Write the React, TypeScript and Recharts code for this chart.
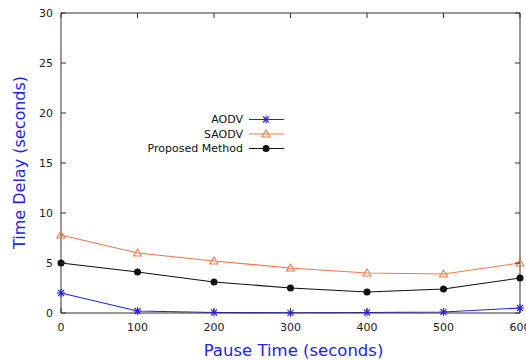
import React from 'react';
import { LineChart, Line, XAxis, YAxis, Legend } from 'recharts';

const pauseTimes = [0, 100, 200, 300, 400, 500, 600];
const aodv = [2.0, 0.2, 0.05, 0.02, 0.05, 0.1, 0.5];
const saodv = [7.8, 6.0, 5.2, 4.5, 4.0, 3.9, 5.0];
const proposed = [5.0, 4.1, 3.1, 2.5, 2.1, 2.4, 3.5];
const xTicks = [0, 100, 200, 300, 400, 500, 600];
const yTicks = [0, 5, 10, 15, 20, 25, 30];
const seriesNames = ['AODV', 'SAODV', 'Proposed Method'];

const data = pauseTimes.map((t, i) => ({
  t,
  aodv: aodv[i],
  saodv: saodv[i],
  proposed: proposed[i],
}));

const BLUE = '#2424e0';
const ORANGE = '#f0784a';
const BLACK = '#111111';
const AXIS = '#333333';
const FONT = 'DejaVu Sans, sans-serif';

const Star = (cx: number, cy: number, color: string, r = 4) => (
  <g stroke={color} strokeWidth={1.1}>
    <line x1={cx - r} y1={cy} x2={cx + r} y2={cy} />
    <line x1={cx} y1={cy - r} x2={cx} y2={cy + r} />
    <line x1={cx - r * 0.75} y1={cy - r * 0.75} x2={cx + r * 0.75} y2={cy + r * 0.75} />
    <line x1={cx - r * 0.75} y1={cy + r * 0.75} x2={cx + r * 0.75} y2={cy - r * 0.75} />
  </g>
);
const Tri = (cx: number, cy: number, color: string, r = 4) => (
  <polygon
    points={`${cx},${cy - r} ${cx - r},${cy + r * 0.75} ${cx + r},${cy + r * 0.75}`}
    fill="none"
    stroke={color}
    strokeWidth={1.1}
  />
);
const Dot = (cx: number, cy: number, color: string, r = 3.5) => (
  <circle cx={cx} cy={cy} r={r} fill={color} stroke="none" />
);

const StarDot = (p: any) => <g key={p.key ?? p.index}>{Star(p.cx, p.cy, BLUE)}</g>;
const TriDot = (p: any) => <g key={p.key ?? p.index}>{Tri(p.cx, p.cy, ORANGE)}</g>;
const CircDot = (p: any) => <g key={p.key ?? p.index}>{Dot(p.cx, p.cy, BLACK)}</g>;

const BottomTick = (p: any) => (
  <g>
    <line x1={p.x} y1={p.y} x2={p.x} y2={p.y - 5} stroke={AXIS} />
    <text x={p.x} y={p.y + 14} textAnchor="middle" dominantBaseline="central" fontSize={11} fontFamily={FONT} fill="#222">
      {p.payload.value}
    </text>
  </g>
);
const TopTick = (p: any) => (
  <line x1={p.x} y1={p.y} x2={p.x} y2={p.y + 5} stroke={AXIS} />
);
const LeftTick = (p: any) => (
  <g>
    <line x1={p.x} y1={p.y} x2={p.x + 5} y2={p.y} stroke={AXIS} />
    <text x={p.x - 8} y={p.y} textAnchor="end" dominantBaseline="central" fontSize={11} fontFamily={FONT} fill="#222">
      {p.payload.value}
    </text>
  </g>
);
const RightTick = (p: any) => (
  <line x1={p.x} y1={p.y} x2={p.x - 5} y2={p.y} stroke={AXIS} />
);

const XLabel = (p: any) => {
  const vb = p.viewBox || { x: 61, y: 313, width: 459, height: 47 };
  return (
    <text x={vb.x + vb.width / 2 + 3} y={350} textAnchor="middle" dominantBaseline="central" fontSize={16.5} fontFamily={FONT} fill={BLUE}>
      Pause Time (seconds)
    </text>
  );
};

const LEG_LEFT = 120;
const LEG_TOP = 108;
const renderLegend = () => {
  const rows = [
    { name: seriesNames[0], color: BLUE, mark: Star },
    { name: seriesNames[1], color: ORANGE, mark: Tri },
    { name: seriesNames[2], color: BLACK, mark: Dot },
  ];
  const ys = [119.5, 134, 148.5];
  return (
    <svg width={180} height={52} style={{ display: 'block', overflow: 'visible' }}>
      {rows.map((r, i) => {
        const y = ys[i] - LEG_TOP;
        return (
          <g key={r.name}>
            <text x={243 - LEG_LEFT} y={y} textAnchor="end" dominantBaseline="central" fontSize={11} fontFamily={FONT} fill="#111">
              {r.name}
            </text>
            <line x1={249 - LEG_LEFT} y1={y} x2={284 - LEG_LEFT} y2={y} stroke={r.color} strokeWidth={1.1} />
            {r.mark(266 - LEG_LEFT, y, r.color)}
          </g>
        );
      })}
    </svg>
  );
};

export default function App() {
  return (
    <div style={{ position: 'absolute', left: 0, top: 0, width: 526, height: 360, background: '#fff' }}>
      <LineChart width={526} height={360} data={data} margin={{ top: 12, right: 5, bottom: 0, left: 0 }}>
        <XAxis
          dataKey="t"
          type="number"
          domain={[0, 600]}
          ticks={xTicks}
          interval={0}
          height={47}
          tickSize={0}
          tickMargin={0}
          tickLine={false}
          axisLine={{ stroke: AXIS }}
          tick={BottomTick}
          label={<XLabel />}
        />
        <XAxis
          xAxisId="top"
          dataKey="t"
          type="number"
          orientation="top"
          domain={[0, 600]}
          ticks={xTicks}
          interval={0}
          height={1}
          tickSize={0}
          tickMargin={0}
          tickLine={false}
          axisLine={{ stroke: AXIS }}
          tick={TopTick}
        />
        <YAxis
          type="number"
          domain={[0, 30]}
          ticks={yTicks}
          interval={0}
          width={61}
          tickSize={0}
          tickMargin={0}
          tickLine={false}
          axisLine={{ stroke: AXIS }}
          tick={LeftTick}
          label={{ value: 'Time Delay (seconds)', angle: -90, position: 'insideLeft', offset: 19, dy: 86, fill: BLUE, fontSize: 16, fontFamily: FONT }}
        />
        <YAxis
          yAxisId="r"
          orientation="right"
          type="number"
          domain={[0, 30]}
          ticks={yTicks}
          interval={0}
          width={1}
          tickSize={0}
          tickMargin={0}
          tickLine={false}
          axisLine={{ stroke: AXIS }}
          tick={RightTick}
        />
        <Legend
          layout="vertical"
          align="center"
          verticalAlign="middle"
          content={renderLegend}
          wrapperStyle={{ left: LEG_LEFT, top: LEG_TOP, width: 180, height: 52 }}
        />
        <Line
          xAxisId="top"
          yAxisId="r"
          dataKey="proposed"
          stroke="none"
          dot={false}
          activeDot={false}
          legendType="none"
          isAnimationActive={false}
        />
        <Line dataKey="aodv" name={seriesNames[0]} stroke={BLUE} strokeWidth={1.1} dot={StarDot} isAnimationActive={false} />
        <Line dataKey="saodv" name={seriesNames[1]} stroke={ORANGE} strokeWidth={1.1} dot={TriDot} isAnimationActive={false} />
        <Line dataKey="proposed" name={seriesNames[2]} stroke={BLACK} strokeWidth={1.1} dot={CircDot} isAnimationActive={false} />
      </LineChart>
    </div>
  );
}
